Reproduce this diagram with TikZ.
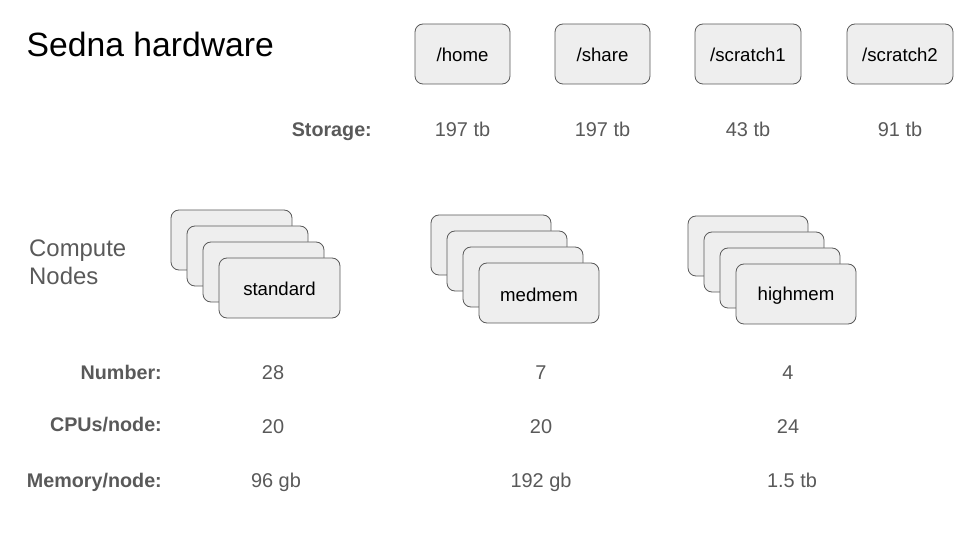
\documentclass[tikz,border=0pt]{standalone}
\usepackage{fontspec}
\setmainfont{Liberation Sans}
\definecolor{txtgrey}{HTML}{595959}
\definecolor{boxfill}{HTML}{EEEEEE}
\definecolor{boxline}{HTML}{595959}
\begin{document}
\begin{tikzpicture}[x=1bp,y=-1bp,
  box/.style={draw=boxline, fill=boxfill, rounded corners=8bp, line width=0.8bp},
  val/.style={text=txtgrey, font=\fontsize{20}{24}\selectfont, inner sep=0pt, anchor=base},
  lbl/.style={text=txtgrey, font=\fontsize{19.8}{24}\selectfont\bfseries, inner sep=0pt, anchor=base east},
  boxtxt/.style={text=black, font=\fontsize{18.7}{22}\selectfont, inner sep=0pt}]
\useasboundingbox (0,0) rectangle (960,540);
\node[anchor=base west, inner sep=0pt, font=\fontsize{33.8}{38}\selectfont] (title) at (26.5,57) {Sedna hardware};

% storage boxes
\draw[box] (415,24) rectangle (510,84);
\node[boxtxt] (home) at (462.5,54.5) {/home};
\draw[box] (555,24) rectangle (650,84);
\node[boxtxt] (share) at (602.5,54.5) {/share};
\draw[box] (695,24) rectangle (801,84);
\node[boxtxt] (scr1) at (748,54.5) {/scratch1};
\draw[box] (847,24) rectangle (953,84);
\node[boxtxt] (scr2) at (900,54.5) {/scratch2};

\node[lbl] (storage) at (372,137) {Storage:};
\node[val] (s1) at (462.5,137) {197 tb};
\node[val] (s2) at (602.5,137) {197 tb};
\node[val] (s3) at (748,137) {43 tb};
\node[val] (s4) at (900,137) {91 tb};

\node[anchor=west, align=left, text=txtgrey, inner sep=0pt, font=\fontsize{24}{28}\selectfont] (compute) at (29,262) {Compute\\Nodes};

% stacks
\foreach \x/\y in {171/210, 187/226, 203/242, 219/258}
  \draw[box] (\x,\y) rectangle ++(121,60);
\node[boxtxt] (std) at (279.5,289) {standard};
\foreach \x/\y in {431/215, 447/231, 463/247, 479/263}
  \draw[box] (\x,\y) rectangle ++(120,60);
\node[boxtxt] (med) at (539,294.5) {medmem};
\foreach \x/\y in {688/216, 704/232, 720/248, 736/264}
  \draw[box] (\x,\y) rectangle ++(120,60);
\node[boxtxt] (high) at (796,295.5) {highmem};

% rows
\node[lbl] (num) at (162,380) {Number:};
\node[lbl] (cpu) at (162,431) {CPUs/node:};
\node[lbl] (mem) at (162,487.5) {Memory/node:};
\node[val] (n1) at (273,380) {28};
\node[val] (n2) at (541,380) {7};
\node[val] (n3) at (788,380) {4};
\node[val] (c1) at (273,433) {20};
\node[val] (c2) at (541,433) {20};
\node[val] (c3) at (788,433) {24};
\node[val] (m1) at (276,487.5) {96 gb};
\node[val] (m2) at (541,487.5) {192 gb};
\node[val] (m3) at (792,487.5) {1.5 tb};
\end{tikzpicture}
\end{document}
